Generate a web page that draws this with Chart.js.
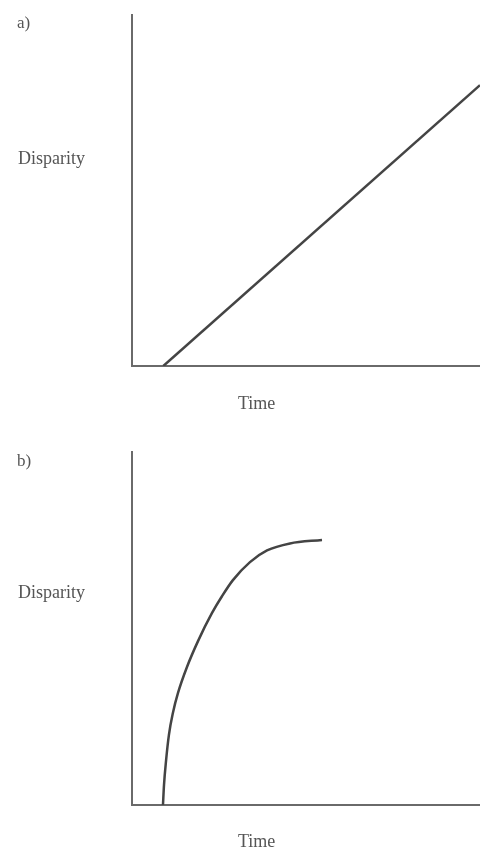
<!DOCTYPE html>
<html>
<head>
<meta charset="utf-8">
<script src="https://cdn.jsdelivr.net/npm/chart.js@4"></script>
<style>
  body { margin: 0; background: #fff; width: 480px; height: 850px; position: relative; overflow: hidden; }
  .panel { position: absolute; left: 0; width: 480px; height: 425px; }
  .lbl { position: absolute; font-family: "Liberation Serif", "DejaVu Serif", serif; font-size: 18px; color: #555; white-space: nowrap; }
</style>
</head>
<body>
<div class="panel" style="top:0"><canvas id="chart_a" width="480" height="425"></canvas></div>
<div class="panel" style="top:425px"><canvas id="chart_b" width="480" height="425"></canvas></div>
<div class="lbl" style="left:17px;top:13px;font-size:17px">a)</div>
<div class="lbl" style="left:18px;top:148px">Disparity</div>
<div class="lbl" style="left:238px;top:393px">Time</div>
<div class="lbl" style="left:17px;top:451px;font-size:17px">b)</div>
<div class="lbl" style="left:18px;top:582px">Disparity</div>
<div class="lbl" style="left:238px;top:831px">Time</div>
<script>
// panel a: straight rise
let linearTime = [9, 100];
let linearDisparity = [0, 80];

// panel b: fast rise that levels off
let curveTime = [8.9, 9.2, 9.8, 10.6, 11.8, 13.2, 15.8, 19.0, 23.0, 25.9, 29.0, 33.9, 38.8, 45.4, 54.6];
let curveDisparity = [0, 5.7, 12.7, 19.8, 26.3, 31.7, 39.1, 46.5, 54.4, 59.2, 63.7, 68.8, 72.1, 74.1, 75.1];

const axisColor = '#6a6a6a';
const lineColor = '#444';

/**
 * turns two arrays into {x, y} points for a scatter line
 */
function toPoints(xs, ys) {
    let points = [];
    for (let i = 0; i < xs.length; i++) {
        points.push({ x: xs[i], y: ys[i] });
    }
    return points;
}

/**
 * builds the config for one panel
 */
function panelConfig(points, topPad, xAxisHeight) {
    return {
        type: 'scatter',
        data: {
            datasets: [{
                data: points,
                showLine: true,
                borderColor: lineColor,
                borderWidth: 2.5,
                pointRadius: 0,
                cubicInterpolationMode: 'monotone'
            }]
        },
        options: {
            responsive: false,
            animation: false,
            layout: { padding: { top: topPad, right: 0, left: 0, bottom: 0 } },
            scales: {
                x: {
                    min: 0, max: 100,
                    ticks: { display: false },
                    grid: { display: false },
                    border: { display: true, color: axisColor, width: 2 },
                    afterFit: function (scale) { scale.height = xAxisHeight; }
                },
                y: {
                    min: 0, max: 100,
                    ticks: { display: false },
                    grid: { display: false },
                    border: { display: true, color: axisColor, width: 2 },
                    afterFit: function (scale) { scale.width = 132; }
                }
            },
            plugins: {
                legend: { display: false },
                tooltip: { enabled: false }
            }
        }
    };
}

new Chart(document.getElementById('chart_a'), panelConfig(toPoints(linearTime, linearDisparity), 15, 59));
new Chart(document.getElementById('chart_b'), panelConfig(toPoints(curveTime, curveDisparity), 27, 45));
</script>
</body>
</html>
